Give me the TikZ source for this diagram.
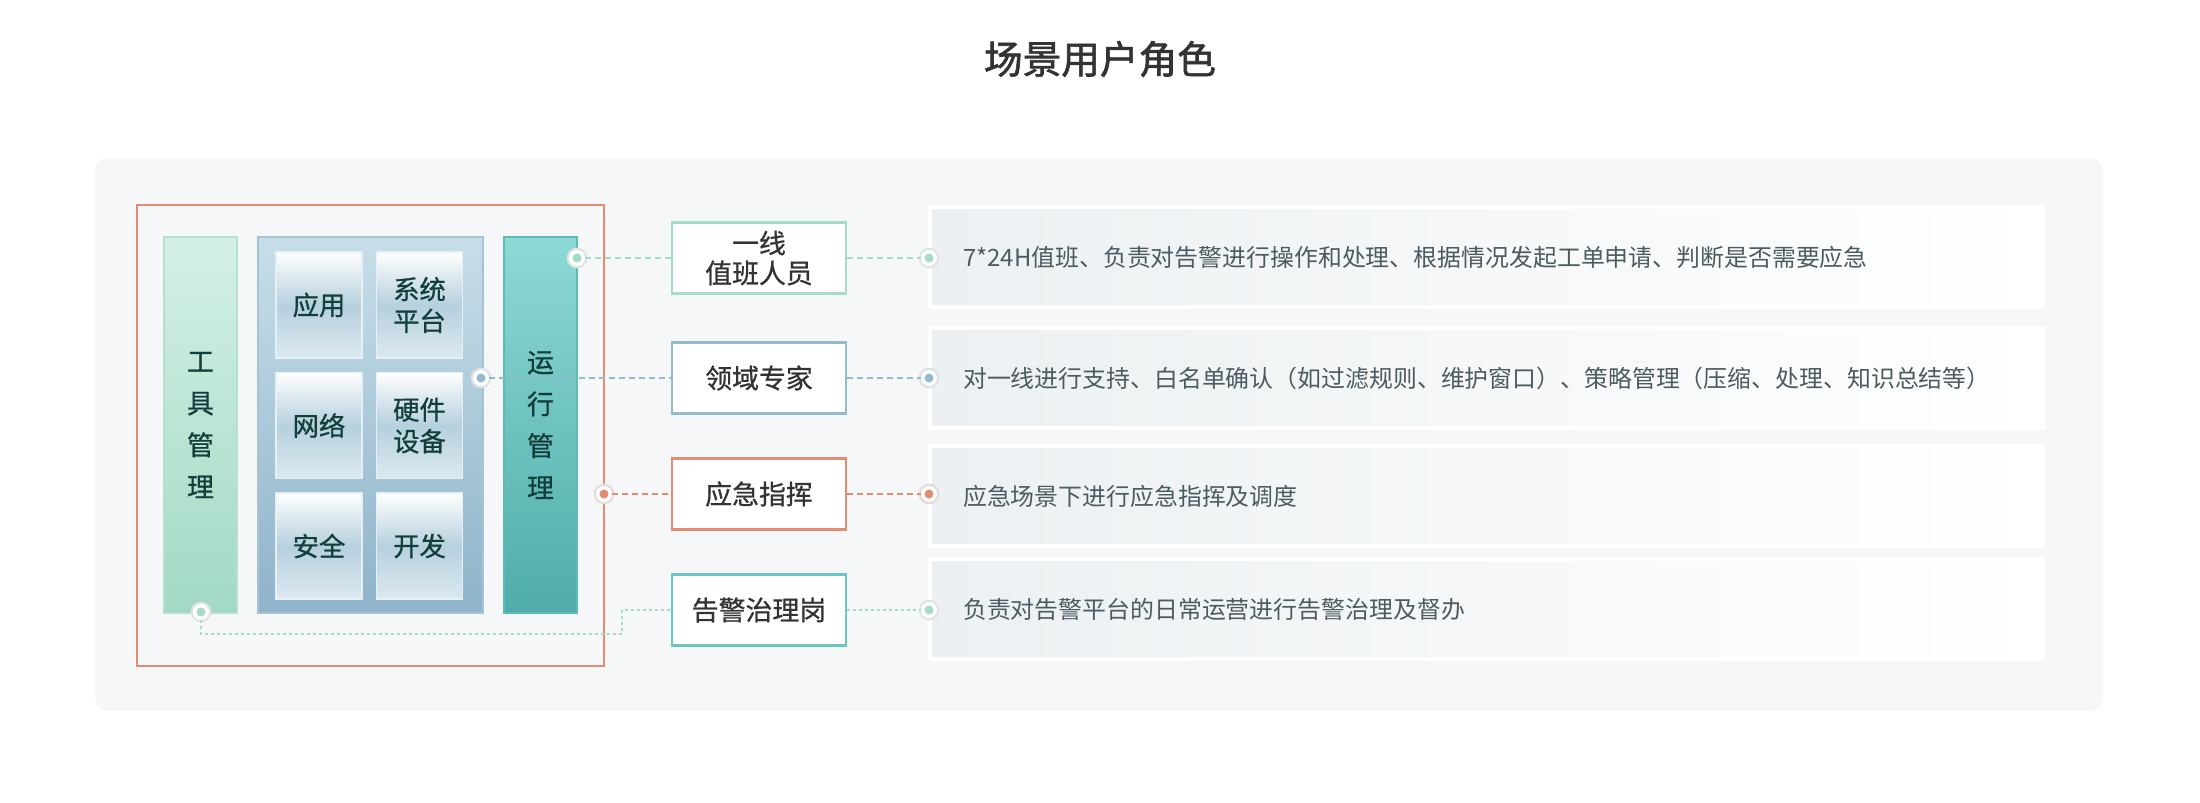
\documentclass[tikz,border=0pt]{standalone}
\usepackage{fontspec}
\setmainfont{Noto Sans CJK SC}
\newfontfamily\titlefont[FakeBold=1.6]{Noto Sans CJK SC}
\newfontfamily\medfont[FakeBold=0.8]{Noto Sans CJK SC}
\usetikzlibrary{positioning}

\definecolor{stagebg}{HTML}{F5F7F8}
\definecolor{frameline}{HTML}{E38C72}
\definecolor{mint}{HTML}{A6DCC6}
\definecolor{skyline}{HTML}{93BAD0}
\definecolor{tealline}{HTML}{6CC7C3}
\definecolor{tooltop}{HTML}{D4F0E6}
\definecolor{toolbot}{HTML}{A2D9C4}
\definecolor{toolline}{HTML}{B3E1D0}
\definecolor{opstop}{HTML}{8DD9D5}
\definecolor{opsbot}{HTML}{50ADAA}
\definecolor{opsline}{HTML}{5FBAB6}
\definecolor{gridtop}{HTML}{C7DEE8}
\definecolor{gridbot}{HTML}{8FB3CA}
\definecolor{gridline}{HTML}{A5C3D5}
\definecolor{tilemid}{HTML}{B6D0DE}
\definecolor{tilebot}{HTML}{DCE9F0}
\definecolor{tileedge}{HTML}{E6EFF3}
\definecolor{deeptext}{HTML}{123E3B}
\definecolor{roletext}{HTML}{333333}
\definecolor{desctext}{HTML}{4D5A60}
\definecolor{descleft}{HTML}{ECF0F2}
\definecolor{titletext}{HTML}{333333}

\begin{document}
\begin{tikzpicture}[
  x=0.02cm, y=-0.02cm,
  every node/.style = {font=\fontsize{15.3}{19}\selectfont},
  bar/.style     = {rectangle, draw=#1line, line width=0.04cm,
                    top color=#1top, bottom color=#1bot,
                    minimum width=1.46cm, minimum height=7.52cm,
                    inner sep=0pt, align=center, text=deeptext,
                    font=\medfont\fontsize{15.3}{23.8}\selectfont},
  tile/.style    = {rectangle, draw=tileedge, line width=0.03cm,
                    top color=white, bottom color=tilebot, middle color=tilemid,
                    minimum width=1.72cm, minimum height=2.12cm,
                    inner sep=0pt, align=center, text=deeptext,
                    font=\medfont\fontsize{15}{18}\selectfont},
  role/.style    = {rectangle, draw=#1, line width=0.05cm, fill=white,
                    minimum width=3.48cm, minimum height=1.42cm,
                    inner sep=0pt, align=center, text=roletext,
                    font=\medfont\fontsize{15.3}{17}\selectfont},
  desc/.style    = {rectangle, draw=white, line width=0.07cm,
                    left color=descleft, right color=white,
                    minimum width=22.26cm, minimum height=2.0cm,
                    text width=20.94cm, inner xsep=0.66cm, align=left,
                    text=desctext, font=\fontsize{13.6}{16}\selectfont},
  dot/.style     = {circle, draw=white, line width=0.07cm, fill=#1,
                    minimum size=0.25cm, inner sep=0pt,
                    preaction={draw=#1!45!gray!30, line width=0.16cm}},
  link/.style    = {draw=#1, line width=0.03cm,
                    dash pattern=on 0.12cm off 0.08cm},
]

\fill[white] (0,0) rectangle (2200,802);
\useasboundingbox (0,0) rectangle (2200,802);

%% ══ TITLE + STAGE ═══════════════════════════════════════════════════════
\node[text=titletext, font=\titlefont\fontsize{22}{26}\selectfont]
  at (1100, 59) (title) {场景用户角色};

\node[rectangle, rounded corners=0.24cm, fill=stagebg,
      minimum width=40.16cm, minimum height=11.06cm]
  at (1099, 434.5) (stage) {};

%% ══ LEFT BLOCK: tools / platform grid / operations ══════════════════════
\node[rectangle, draw=frameline, line width=0.04cm,
      minimum width=9.34cm, minimum height=9.22cm]
  at (370.5, 435.5) (frame) {};

\node[bar=tool] at (200.5, 425) (tools) {工\\具\\管\\理};

\node[rectangle, draw=gridline, line width=0.04cm,
      top color=gridtop, bottom color=gridbot,
      minimum width=4.5cm, minimum height=7.52cm]
  at (370.5, 425) (grid) {};

\node[tile] at (319, 305)   (app)  {应用};
\node[tile] at (419.5, 305) (sys)  {系统\\平台};
\node[tile] at (319, 425.5) (net)  {网络};
\node[tile] at (419.5, 425.5) (hw) {硬件\\设备};
\node[tile] at (319, 546)   (sec)  {安全};
\node[tile] at (419.5, 546) (dev)  {开发};

\node[bar=ops] at (540.5, 425) (ops) {运\\行\\管\\理};

%% ══ ROLES ═══════════════════════════════════════════════════════════════
\node[role=mint]       at (759, 258) (duty)   {一线\\值班人员};
\node[role=skyline]    at (759, 378) (expert) {领域专家};
\node[role=frameline]  at (759, 494) (emerg)  {应急指挥};
\node[role=tealline]   at (759, 610) (govern) {告警治理岗};

%% ══ DUTIES ══════════════════════════════════════════════════════════════
\node[desc] at (1486.5, 257) (dutytxt)
  {7*24H值班、负责对告警进行操作和处理、根据情况发起工单申请、判断是否需要应急};
\node[desc] at (1486.5, 378) (experttxt)
  {对一线进行支持、白名单确认（如过滤规则、维护窗口）、策略管理（压缩、处理、知识总结等）};
\node[desc] at (1486.5, 496) (emergtxt)
  {应急场景下进行应急指挥及调度};
\node[desc] at (1486.5, 609) (governtxt)
  {负责对告警平台的日常运营进行告警治理及督办};

%% ── connector dots ──────────────────────────────────────────────────────
\node[dot=mint]      at (577, 258) (dutyL)   {};
\node[dot=skyline]   at (481, 378) (expertL) {};
\node[dot=frameline] at (604, 494) (emergL)  {};
\node[dot=mint]      at (201, 612) (governL) {};

\node[dot=mint]      at (929, 258) (dutyR)   {};
\node[dot=skyline]   at (929, 378) (expertR) {};
\node[dot=frameline] at (929, 494) (emergR)  {};
\node[dot=mint]      at (929, 610) (governR) {};

\coordinate (bend) at (622, 634);

%% ── connectors ──────────────────────────────────────────────────────────
\draw[link=mint]      (dutyL)   -- (duty);
\draw[link=skyline]   (expertL) -- (expert);
\draw[link=frameline] (emergL)  -- (emerg);
\draw[link=mint, dash pattern=on 0.06cm off 0.06cm]
  (governL) |- (bend) |- (govern);

\draw[link=mint]      (duty)   -- (dutyR);
\draw[link=skyline]   (expert) -- (expertR);
\draw[link=frameline] (emerg)  -- (emergR);
\draw[link=mint, dash pattern=on 0.06cm off 0.06cm] (govern) -- (governR);

\end{tikzpicture}
\end{document}
